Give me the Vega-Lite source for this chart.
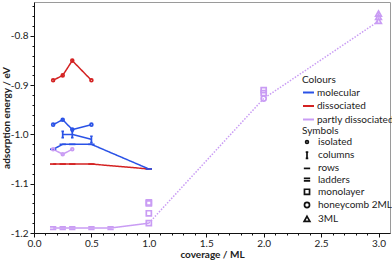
{
  "$schema": "https://vega.github.io/schema/vega-lite/v6.json",
  "width": 356,
  "height": 231,
  "autosize": {"type": "none"},
  "padding": {"left": 34, "top": 2, "right": 2, "bottom": 27},
  "config": {
    "font": "Lato",
    "view": {"stroke": "#9a9a9a", "strokeWidth": 1},
    "axis": {"labelFont": "Lato", "titleFont": "Lato", "labelFontSize": 10, "titleFontSize": 10, "labelColor": "#222", "titleColor": "#222", "domainColor": "#111", "tickColor": "#111", "titleFontWeight": "bold", "grid": false},
    "legend": {"labelFont": "Lato", "titleFont": "Lato", "labelFontSize": 10, "titleFontSize": 10, "titleFontWeight": "normal", "labelColor": "#222", "titleColor": "#222", "titlePadding": 1}
  },
  "datasets": {
    "pts": [
      {"x": 0.1667, "y": -0.89, "colour": "dissociated", "sym": "isolated"},
      {"x": 0.25, "y": -0.88, "colour": "dissociated", "sym": "isolated"},
      {"x": 0.3333, "y": -0.85, "colour": "dissociated", "sym": "isolated"},
      {"x": 0.5, "y": -0.89, "colour": "dissociated", "sym": "isolated"},
      {"x": 0.1667, "y": -1.06, "colour": "dissociated", "sym": "rows"},
      {"x": 0.25, "y": -1.06, "colour": "dissociated", "sym": "rows"},
      {"x": 0.3333, "y": -1.06, "colour": "dissociated", "sym": "rows"},
      {"x": 0.5, "y": -1.06, "colour": "dissociated", "sym": "rows"},
      {"x": 1.0, "y": -1.07, "colour": "dissociated", "sym": "rows"},
      {"x": 0.1667, "y": -0.98, "colour": "molecular", "sym": "isolated"},
      {"x": 0.25, "y": -0.97, "colour": "molecular", "sym": "isolated"},
      {"x": 0.3333, "y": -0.99, "colour": "molecular", "sym": "isolated"},
      {"x": 0.5, "y": -0.98, "colour": "molecular", "sym": "isolated"},
      {"x": 0.25, "y": -1.0, "colour": "molecular", "sym": "columns"},
      {"x": 0.3333, "y": -1.0, "colour": "molecular", "sym": "columns"},
      {"x": 0.5, "y": -1.01, "colour": "molecular", "sym": "columns"},
      {"x": 0.1667, "y": -1.03, "colour": "molecular", "sym": "rows"},
      {"x": 0.25, "y": -1.02, "colour": "molecular", "sym": "rows"},
      {"x": 0.3333, "y": -1.02, "colour": "molecular", "sym": "rows"},
      {"x": 0.5, "y": -1.02, "colour": "molecular", "sym": "rows"},
      {"x": 1.0, "y": -1.07, "colour": "molecular", "sym": "rows"},
      {"x": 0.1667, "y": -1.03, "colour": "partly dissociated", "sym": "isolated"},
      {"x": 0.25, "y": -1.04, "colour": "partly dissociated", "sym": "isolated"},
      {"x": 0.3333, "y": -1.03, "colour": "partly dissociated", "sym": "isolated"},
      {"x": 0.1667, "y": -1.19, "colour": "partly dissociated", "sym": "ladders"},
      {"x": 0.25, "y": -1.19, "colour": "partly dissociated", "sym": "ladders"},
      {"x": 0.3333, "y": -1.19, "colour": "partly dissociated", "sym": "ladders"},
      {"x": 0.5, "y": -1.19, "colour": "partly dissociated", "sym": "ladders"},
      {"x": 0.6667, "y": -1.19, "colour": "partly dissociated", "sym": "ladders"},
      {"x": 1.0, "y": -1.18, "colour": "partly dissociated", "sym": "monolayer"},
      {"x": 1.0, "y": -1.16, "colour": "partly dissociated", "sym": "monolayer"},
      {"x": 1.0, "y": -1.14, "colour": "partly dissociated", "sym": "monolayer"},
      {"x": 1.0, "y": -1.138, "colour": "partly dissociated", "sym": "monolayer"},
      {"x": 2.0, "y": -0.91, "colour": "partly dissociated", "sym": "monolayer"},
      {"x": 2.0, "y": -0.916, "colour": "partly dissociated", "sym": "monolayer"},
      {"x": 2.0, "y": -0.927, "colour": "partly dissociated", "sym": "honeycomb 2ML"},
      {"x": 3.0, "y": -0.755, "colour": "partly dissociated", "sym": "3ML"},
      {"x": 3.0, "y": -0.762, "colour": "partly dissociated", "sym": "3ML"},
      {"x": 3.0, "y": -0.77, "colour": "partly dissociated", "sym": "3ML"}
    ],
    "lines": [
      {"series": "r-iso", "x": 0.1667, "y": -0.89, "colour": "dissociated", "dash": "solid"},
      {"series": "r-iso", "x": 0.25, "y": -0.88, "colour": "dissociated", "dash": "solid"},
      {"series": "r-iso", "x": 0.3333, "y": -0.85, "colour": "dissociated", "dash": "solid"},
      {"series": "r-iso", "x": 0.5, "y": -0.89, "colour": "dissociated", "dash": "solid"},
      {"series": "r-rows", "x": 0.1667, "y": -1.06, "colour": "dissociated", "dash": "solid"},
      {"series": "r-rows", "x": 0.5, "y": -1.06, "colour": "dissociated", "dash": "solid"},
      {"series": "r-rows", "x": 1.0, "y": -1.07, "colour": "dissociated", "dash": "solid"},
      {"series": "b-iso", "x": 0.1667, "y": -0.98, "colour": "molecular", "dash": "solid"},
      {"series": "b-iso", "x": 0.25, "y": -0.97, "colour": "molecular", "dash": "solid"},
      {"series": "b-iso", "x": 0.3333, "y": -0.99, "colour": "molecular", "dash": "solid"},
      {"series": "b-iso", "x": 0.5, "y": -0.98, "colour": "molecular", "dash": "solid"},
      {"series": "b-col", "x": 0.25, "y": -1.0, "colour": "molecular", "dash": "solid"},
      {"series": "b-col", "x": 0.3333, "y": -1.0, "colour": "molecular", "dash": "solid"},
      {"series": "b-col", "x": 0.5, "y": -1.01, "colour": "molecular", "dash": "solid"},
      {"series": "b-rows", "x": 0.1667, "y": -1.03, "colour": "molecular", "dash": "solid"},
      {"series": "b-rows", "x": 0.25, "y": -1.02, "colour": "molecular", "dash": "solid"},
      {"series": "b-rows", "x": 0.5, "y": -1.02, "colour": "molecular", "dash": "solid"},
      {"series": "b-rows", "x": 1.0, "y": -1.07, "colour": "molecular", "dash": "solid"},
      {"series": "p-iso", "x": 0.1667, "y": -1.03, "colour": "partly dissociated", "dash": "solid"},
      {"series": "p-iso", "x": 0.25, "y": -1.04, "colour": "partly dissociated", "dash": "solid"},
      {"series": "p-iso", "x": 0.3333, "y": -1.03, "colour": "partly dissociated", "dash": "solid"},
      {"series": "p-lad", "x": 0.1667, "y": -1.19, "colour": "partly dissociated", "dash": "solid"},
      {"series": "p-lad", "x": 0.6667, "y": -1.19, "colour": "partly dissociated", "dash": "solid"},
      {"series": "p-lad", "x": 1.0, "y": -1.18, "colour": "partly dissociated", "dash": "solid"},
      {"series": "p-dot", "x": 1.0, "y": -1.18, "colour": "partly dissociated", "dash": "dotted"},
      {"series": "p-dot", "x": 2.0, "y": -0.927, "colour": "partly dissociated", "dash": "dotted"},
      {"series": "p-dot", "x": 3.0, "y": -0.77, "colour": "partly dissociated", "dash": "dotted"}
    ]
  },
  "encoding": {
    "x": {
      "field": "x", "type": "quantitative",
      "scale": {"domain": [0, 3.1], "nice": false, "zero": false},
      "axis": {
        "title": "coverage / ML",
        "values": [0,0.1,0.2,0.3,0.4,0.5,0.6,0.7,0.8,0.9,1,1.1,1.2,1.3,1.4,1.5,1.6,1.7,1.8,1.9,2,2.1,2.2,2.3,2.4,2.5,2.6,2.7,2.8,2.9,3],
        "labelExpr": "abs(datum.value*2-round(datum.value*2))<0.001 ? format(datum.value,'.1f') : ''",
        "tickSize": {"condition": {"test": "abs(datum.value*2-round(datum.value*2))<0.001", "value": 4}, "value": 2},
        "labelOverlap": false, "labelFlush": false, "labelPadding": 1, "titlePadding": 1
      }
    },
    "y": {
      "field": "y", "type": "quantitative",
      "scale": {"domain": [-1.2, -0.731], "nice": false, "zero": false},
      "axis": {
        "title": "adsorption energy / eV",
        "values": [-1.2,-1.18,-1.16,-1.14,-1.12,-1.1,-1.08,-1.06,-1.04,-1.02,-1.0,-0.98,-0.96,-0.94,-0.92,-0.9,-0.88,-0.86,-0.84,-0.82,-0.8,-0.78,-0.76,-0.74],
        "labelExpr": "abs(datum.value*10-round(datum.value*10))<0.001 ? replace(format(datum.value,'.1f'),'−','-') : ''",
        "tickSize": {"condition": {"test": "abs(datum.value*10-round(datum.value*10))<0.001", "value": 4}, "value": 2},
        "labelOverlap": false, "labelFlush": false, "labelPadding": 2, "titleX": -23
      }
    }
  },
  "layer": [
    {
      "data": {"name": "lines"},
      "mark": {"type": "line", "strokeWidth": 1.5},
      "encoding": {
        "detail": {"field": "series"},
        "color": {
          "field": "colour", "type": "nominal",
          "scale": {"domain": ["molecular", "dissociated", "partly dissociated"], "range": ["#2a52e6", "#d42222", "#c99cf4"]},
          "legend": {"title": "Colours", "orient": "none", "legendX": 268, "legendY": 73, "symbolType": "stroke", "symbolSize": 120, "symbolStrokeWidth": 2, "rowPadding": 1.5, "labelOffset": 2}
        },
        "strokeDash": {
          "field": "dash", "type": "nominal",
          "scale": {"domain": ["solid", "dotted"], "range": [[1, 0], [1.5, 1.5]]},
          "legend": null
        }
      }
    },
    {
      "data": {"name": "pts"},
      "mark": {"type": "point", "filled": false, "strokeWidth": 1.7, "size": 40, "opacity": 1},
      "encoding": {
        "color": {
          "field": "colour", "type": "nominal",
          "legend": {"title": "Colours", "orient": "none", "legendX": 268, "legendY": 73, "symbolType": "stroke", "symbolSize": 120, "symbolStrokeWidth": 2, "rowPadding": 1.5, "labelOffset": 2}
        },
        "shape": {
          "field": "sym", "type": "nominal",
          "scale": {
            "domain": ["isolated", "columns", "rows", "ladders", "monolayer", "honeycomb 2ML", "3ML"],
            "range": [
              "M0,-0.45A0.45,0.45,0,1,1,0,0.45A0.45,0.45,0,1,1,0,-0.45Z",
              "M0,-1L0,1M-0.4,-1L0.4,-1M-0.4,1L0.4,1",
              "M-1,0L1,0",
              "M-1,-0.4L1,-0.4M-1,0.4L1,0.4",
              "M-0.8,-0.8L0.8,-0.8L0.8,0.8L-0.8,0.8Z",
              "M0,-0.8A0.8,0.8,0,1,1,0,0.8A0.8,0.8,0,1,1,0,-0.8Z",
              "M0,-0.9L0.9,0.7L-0.9,0.7Z"
            ]
          },
          "legend": {"title": "Symbols", "orient": "none", "legendX": 268, "legendY": 124, "symbolStrokeColor": "#111", "symbolFillColor": "transparent", "symbolStrokeWidth": 1.7, "symbolSize": 40, "rowPadding": 1.2, "labelOffset": 6}
        }
      }
    }
  ]
}
